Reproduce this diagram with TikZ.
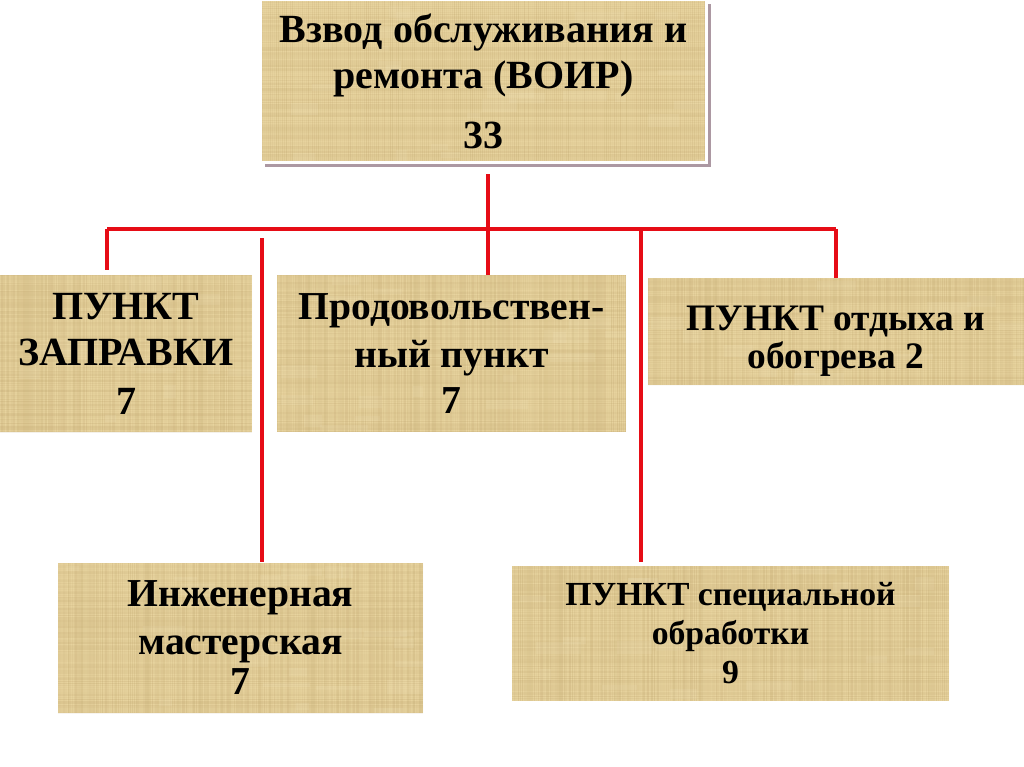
\documentclass[tikz,border=0pt]{standalone}
\usepackage{fontspec}
\setmainfont{Liberation Serif}
\usetikzlibrary{shadows}
\definecolor{papbase}{RGB}{231,211,158}
\definecolor{papdark}{RGB}{170,140,84}
\definecolor{paplight}{RGB}{246,234,198}
\definecolor{linkred}{RGB}{230,12,22}
\definecolor{shadowgrey}{RGB}{172,152,162}
\tikzset{
  papyrus/.style={draw=none, fill=papbase, inner sep=0pt, align=center,
    font=\bfseries,
    path picture={
      \pgfmathsetseed{#1}
      \foreach \k in {0,2,...,460}{
        \pgfmathsetmacro\op{0.02+0.16*rnd}
        \pgfmathsetmacro\lw{0.6+1.0*rnd}
        \draw[line width=\lw pt, draw=papdark, opacity=\op]
          ([xshift=\k pt]path picture bounding box.north west) --
          ([xshift=\k pt]path picture bounding box.south west);
      }
      \foreach \k in {0,2,...,170}{
        \pgfmathsetmacro\op{0.02+0.14*rnd}
        \pgfmathsetmacro\lw{0.6+1.0*rnd}
        \draw[line width=\lw pt, draw=papdark, opacity=\op]
          ([yshift=-\k pt]path picture bounding box.north west) --
          ([yshift=-\k pt]path picture bounding box.north east);
      }
      \foreach \k in {1,...,30}{
        \pgfmathsetmacro\px{460*rnd}
        \pgfmathsetmacro\py{170*rnd}
        \pgfmathsetmacro\pw{10+40*rnd}
        \pgfmathsetmacro\ph{4+10*rnd}
        \fill[paplight, opacity=0.12]
          ([xshift=\px pt, yshift=-\py pt]path picture bounding box.north west)
          rectangle ++(\pw, \ph);
      }
    }},
  conn/.style={draw=linkred, line width=4pt},
}
\begin{document}
\begin{tikzpicture}[x=1pt, y=-1pt]
\useasboundingbox (0,0) rectangle (1024,767);
\fill[white] (0,0) rectangle (1024,767);

% top box with white frame and shadow
\node[papyrus=11, draw=white, line width=3pt,
      drop shadow={shadow xshift=4pt, shadow yshift=-4pt, fill=shadowgrey, opacity=1},
      minimum width=446pt, minimum height=163pt,
      font=\bfseries\fontsize{40}{46}\selectfont]
  (top) at (483.5,81.5) {Взвод обслуживания и\\ремонта (ВОИР)\\[14pt]33};

\node[papyrus=3, minimum width=252pt, minimum height=157pt,
      font=\bfseries\fontsize{40}{46}\selectfont]
  (zap) at (126,353.5) {ПУНКТ\\ЗАПРАВКИ\\[3pt]7};

\node[papyrus=5, minimum width=349pt, minimum height=157pt,
      font=\bfseries\fontsize{39.6}{48}\selectfont]
  (prod) at (451.5,353.5) {Продовольствен-\\ный пункт\\[-2pt]7};

\node[papyrus=7, minimum width=376pt, minimum height=107pt,
      font=\bfseries\fontsize{37.4}{38}\selectfont]
  (otd) at (836,331.5) {\rule{0pt}{44pt}ПУНКТ отдыха и\\обогрева 2};

\node[papyrus=9, minimum width=365pt, minimum height=150pt,
      font=\bfseries\fontsize{39.6}{40}\selectfont]
  (inzh) at (240.5,638) {Инженерная\\[8pt]мастерская\\7};

\node[papyrus=13, minimum width=437pt, minimum height=135pt,
      font=\bfseries\fontsize{33.7}{39}\selectfont]
  (spec) at (730.5,633.5) {ПУНКТ специальной\\обработки\\9};

% connectors
\coordinate (hub) at (488,229);
\coordinate (hl) at (107,229);
\coordinate (hr) at (836,229);
\coordinate (iv) at (262,238);
\coordinate (sv) at (641,229);

\draw[conn] ([yshift=-10pt]top.south -| hub) -- (hub);
\draw[conn] (hl) -- (hr);
\draw[conn, shorten >=5pt] (hl) -- (hl |- zap.north);
\draw[conn] (hub) -- (hub |- prod.north);
\draw[conn] (hr) -- (hr |- otd.north);
\draw[conn, shorten >=1pt] (iv) -- (iv |- inzh.north);
\draw[conn, shorten >=4pt] (sv) -- (sv |- spec.north);
\end{tikzpicture}
\end{document}
